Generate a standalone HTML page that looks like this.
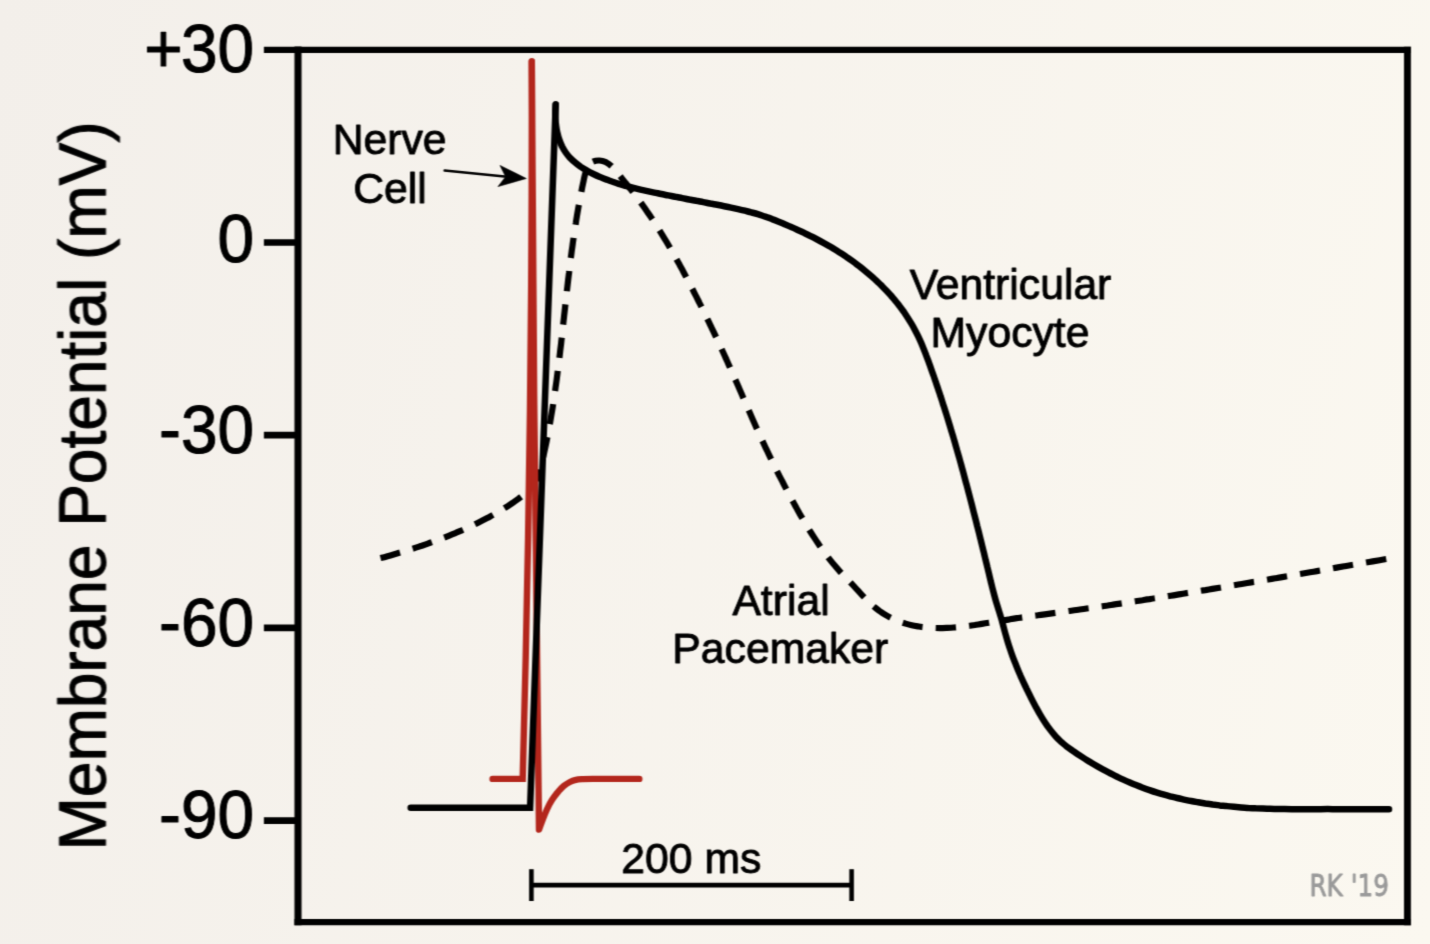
<!DOCTYPE html>
<html lang="en">
<head>
<meta charset="utf-8">
<title>Cardiac Action Potentials</title>
<style>
html,body{margin:0;padding:0;}
body{width:1430px;height:944px;overflow:hidden;background:linear-gradient(103deg,#f3efea 0%,#fbf8f0 100%);}
svg{display:block;position:absolute;left:0;top:0;}
text{font-family:"Liberation Sans",Arial,Helvetica,sans-serif;fill:#000;stroke:#000;stroke-width:1px;stroke-linejoin:round;}
.ax{font-size:65.8px;}
.yl{font-size:64px;}
.lb{font-size:42.7px;text-anchor:middle;stroke-width:0.9px;}
</style>
</head>
<body>
<svg width="1430" height="944" viewBox="0 0 1430 944">
  <defs><filter id="soft" x="0" y="0" width="1430" height="944" filterUnits="userSpaceOnUse" color-interpolation-filters="sRGB"><feConvolveMatrix order="3" kernelMatrix="0.0276 0.0648 0.0276 0.1748 0.4104 0.1748 0.0276 0.0648 0.0276" divisor="1" edgeMode="duplicate" preserveAlpha="false"/></filter></defs>
  <g filter="url(#soft)">
  <!-- frame -->
  <g stroke="#000" fill="none" stroke-linecap="butt">
    <line x1="263.9" y1="49.85" x2="1410.9" y2="49.85" stroke-width="6.3"/>
    <line x1="294.4" y1="922.2" x2="1410.9" y2="922.2" stroke-width="6.3"/>
    <line x1="298" y1="46.5" x2="298" y2="925.35" stroke-width="7.1"/>
    <line x1="1407.45" y1="46.7" x2="1407.45" y2="925.35" stroke-width="6.9"/>
  </g>
  <!-- ticks -->
  <g stroke="#000" stroke-width="6.6" fill="none">
    <line x1="263.9" y1="242.5" x2="298" y2="242.5"/>
    <line x1="263.9" y1="435.1" x2="298" y2="435.1"/>
    <line x1="263.9" y1="627.9" x2="298" y2="627.9"/>
    <line x1="263.9" y1="820.65" x2="298" y2="820.65"/>
  </g>
  <!-- tick labels -->
  <g class="ax" text-anchor="end">
    <text transform="translate(254.2 72) scale(1 1.035)">+<tspan dx="-1.6">30</tspan></text>
    <text transform="translate(254.2 261.7) scale(1 1.035)">0</text>
    <text transform="translate(254.2 452.7) scale(1 1.035)">-30</text>
    <text transform="translate(254.2 645.6) scale(1 1.035)">-60</text>
    <text transform="translate(254.2 838.2) scale(1 1.035)">-90</text>
  </g>
  <!-- axis title -->
  <text class="ax yl" transform="translate(105.3 485.9) rotate(-90) scale(1 1.03)" text-anchor="middle">Membrane Potential (mV)</text>

  <!-- atrial pacemaker (dashed) -->
  <path id="pace" fill="none" stroke="#000" stroke-width="6.2" stroke-dasharray="20.3 13.2"
    d="M380.5 558.1 C381.7 557.8 385.2 556.9 387.5 556.2 C389.8 555.6 392.1 554.9 394.4 554.2 C396.7 553.6 399.0 552.9 401.3 552.2 C403.6 551.5 405.9 550.8 408.2 550.1 C410.5 549.4 412.8 548.7 415.0 547.9 C417.3 547.2 419.6 546.4 421.8 545.7 C424.1 544.9 426.4 544.1 428.6 543.3 C430.9 542.6 433.1 541.7 435.4 540.9 C437.6 540.1 439.8 539.3 442.1 538.4 C444.3 537.6 446.5 536.7 448.7 535.8 C450.9 534.9 453.2 534.0 455.4 533.1 C457.6 532.2 459.7 531.2 461.9 530.3 C464.1 529.3 466.3 528.3 468.5 527.3 C470.6 526.3 472.8 525.3 474.9 524.3 C477.1 523.2 479.2 522.2 481.4 521.1 C483.5 520.0 485.6 518.9 487.7 517.8 C489.9 516.6 492.0 515.5 494.1 514.3 C496.2 513.1 498.3 511.9 500.3 510.7 C502.4 509.5 504.5 508.2 506.5 506.9 C508.5 505.6 510.6 504.3 512.6 502.9 C514.5 501.5 516.5 500.1 518.5 498.7 C520.4 497.2 522.4 495.7 524.2 494.2 C526.0 492.6 527.8 491.0 529.4 489.2 C531.0 487.5 532.4 485.6 533.7 483.7 C534.9 481.8 536.0 479.7 537.0 477.6 C537.9 475.5 538.7 473.3 539.5 471.0 C540.2 468.8 540.9 466.5 541.5 464.2 C542.1 461.9 542.6 459.5 543.2 457.2 C543.7 454.8 544.2 452.5 544.7 450.1 C545.2 447.8 545.7 445.4 546.2 443.1 C546.7 440.7 547.1 438.4 547.6 436.0 C548.1 433.6 548.5 431.3 548.9 428.9 C549.4 426.6 549.8 424.2 550.2 421.9 C550.6 419.5 551.0 417.1 551.4 414.8 C551.8 412.4 552.2 410.0 552.6 407.7 C553.0 405.3 553.3 402.9 553.7 400.6 C554.0 398.2 554.4 395.8 554.7 393.5 C555.1 391.1 555.4 388.7 555.7 386.4 C556.1 384.0 556.4 381.6 556.7 379.3 C557.0 376.9 557.3 374.5 557.6 372.2 C557.9 369.8 558.2 367.4 558.5 365.0 C558.8 362.7 559.1 360.3 559.4 357.9 C559.7 355.5 560.0 353.2 560.2 350.8 C560.5 348.4 560.8 346.0 561.1 343.7 C561.3 341.3 561.6 338.9 561.9 336.5 C562.1 334.2 562.4 331.8 562.7 329.4 C562.9 327.0 563.2 324.7 563.4 322.3 C563.7 319.9 564.0 317.5 564.2 315.1 C564.5 312.8 564.7 310.4 565.0 308.0 C565.3 305.6 565.5 303.3 565.8 300.9 C566.1 298.5 566.3 296.1 566.6 293.8 C566.9 291.4 567.1 289.0 567.4 286.6 C567.7 284.3 567.9 281.9 568.2 279.5 C568.5 277.1 568.8 274.8 569.1 272.4 C569.3 270.0 569.6 267.7 569.9 265.3 C570.2 262.9 570.5 260.5 570.8 258.2 C571.1 255.8 571.4 253.4 571.7 251.1 C572.1 248.7 572.4 246.3 572.7 244.0 C573.0 241.6 573.4 239.2 573.7 236.9 C574.1 234.5 574.4 232.1 574.8 229.8 C575.1 227.4 575.5 225.0 575.9 222.7 C576.2 220.3 576.6 218.0 577.0 215.6 C577.4 213.3 577.8 210.9 578.2 208.5 C578.6 206.2 579.1 203.8 579.5 201.5 C579.9 199.1 580.4 196.8 580.8 194.4 C581.3 192.1 581.8 189.7 582.2 187.4 C582.7 185.0 583.2 182.7 583.7 180.3 C584.2 178.0 584.6 175.7 585.3 173.3 C586.0 170.9 586.5 168.0 587.8 166.0 C589.1 164.1 591.0 162.5 593.0 161.6 C594.9 160.7 597.3 160.4 599.5 160.5 C601.6 160.6 603.9 161.3 606.0 162.2 C608.0 163.2 609.9 164.6 611.6 166.2 C613.4 167.7 615.0 169.6 616.5 171.5 C618.1 173.3 619.6 175.4 621.1 177.3 C622.6 179.2 624.1 181.1 625.6 182.9 C627.0 184.8 628.5 186.6 630.0 188.4 C631.4 190.2 632.9 192.1 634.3 193.9 C635.7 195.8 637.1 197.7 638.5 199.5 C639.9 201.4 641.3 203.3 642.6 205.2 C644.0 207.1 645.4 209.0 646.7 211.0 C648.0 212.9 649.4 214.8 650.7 216.8 C652.0 218.7 653.3 220.7 654.5 222.7 C655.8 224.6 657.1 226.6 658.4 228.6 C659.6 230.6 660.9 232.6 662.1 234.6 C663.3 236.6 664.5 238.6 665.8 240.7 C667.0 242.7 668.2 244.7 669.4 246.7 C670.5 248.8 671.7 250.8 672.9 252.9 C674.1 254.9 675.2 257.0 676.4 259.0 C677.5 261.1 678.7 263.2 679.8 265.2 C680.9 267.3 682.1 269.4 683.2 271.5 C684.3 273.5 685.4 275.6 686.5 277.7 C687.6 279.8 688.7 281.9 689.8 284.0 C690.9 286.1 692.0 288.2 693.1 290.3 C694.1 292.4 695.2 294.5 696.3 296.6 C697.3 298.7 698.4 300.8 699.4 302.9 C700.5 305.0 701.6 307.1 702.6 309.2 C703.6 311.3 704.7 313.4 705.7 315.5 C706.7 317.6 707.8 319.7 708.8 321.8 C709.8 324.0 710.8 326.1 711.8 328.2 C712.9 330.3 713.9 332.4 714.9 334.6 C715.9 336.7 716.9 338.8 717.9 340.9 C718.9 343.1 719.8 345.2 720.8 347.3 C721.8 349.5 722.8 351.6 723.8 353.8 C724.8 355.9 725.7 358.0 726.7 360.2 C727.7 362.3 728.6 364.5 729.6 366.6 C730.5 368.8 731.5 370.9 732.5 373.1 C733.4 375.3 734.4 377.4 735.3 379.6 C736.3 381.7 737.2 383.9 738.2 386.0 C739.1 388.2 740.1 390.4 741.0 392.5 C741.9 394.7 742.9 396.8 743.8 399.0 C744.8 401.2 745.7 403.3 746.7 405.5 C747.6 407.6 748.5 409.8 749.5 412.0 C750.4 414.1 751.4 416.3 752.3 418.4 C753.3 420.6 754.2 422.7 755.2 424.9 C756.1 427.0 757.1 429.2 758.1 431.3 C759.0 433.5 760.0 435.6 761.0 437.8 C762.0 439.9 763.0 442.0 764.0 444.2 C764.9 446.3 765.9 448.4 767.0 450.5 C768.0 452.7 769.0 454.8 770.0 456.9 C771.0 459.0 772.1 461.1 773.1 463.2 C774.1 465.4 775.2 467.5 776.2 469.6 C777.3 471.7 778.4 473.8 779.4 475.9 C780.5 478.0 781.6 480.1 782.7 482.1 C783.7 484.2 784.8 486.3 785.9 488.4 C787.0 490.5 788.1 492.6 789.2 494.7 C790.3 496.7 791.4 498.8 792.6 500.9 C793.7 503.0 794.8 505.0 796.0 507.1 C797.1 509.2 798.3 511.2 799.4 513.3 C800.6 515.3 801.8 517.3 803.0 519.4 C804.2 521.4 805.4 523.4 806.6 525.4 C807.8 527.5 809.1 529.5 810.3 531.5 C811.6 533.5 812.8 535.4 814.1 537.4 C815.4 539.4 816.7 541.3 818.0 543.3 C819.3 545.2 820.7 547.2 822.0 549.1 C823.4 551.0 824.8 552.9 826.2 554.8 C827.6 556.6 829.0 558.5 830.5 560.4 C831.9 562.2 833.4 564.0 835.0 565.8 C836.5 567.6 838.0 569.4 839.6 571.1 C841.2 572.9 842.8 574.6 844.5 576.3 C846.1 578.0 847.8 579.7 849.4 581.4 C851.0 583.1 852.6 584.8 854.2 586.5 C855.8 588.3 857.4 590.0 859.0 591.7 C860.6 593.5 862.1 595.2 863.8 596.9 C865.4 598.6 867.0 600.2 868.7 601.9 C870.4 603.5 872.1 605.1 873.9 606.6 C875.8 608.1 877.6 609.6 879.5 611.0 C881.5 612.3 883.5 613.7 885.5 614.9 C887.5 616.1 889.6 617.2 891.7 618.3 C893.8 619.3 896.0 620.2 898.2 621.1 C900.4 621.9 902.6 622.7 904.8 623.4 C907.1 624.1 909.4 624.7 911.7 625.2 C913.9 625.7 916.3 626.1 918.6 626.5 C920.9 626.9 923.3 627.2 925.6 627.4 C927.9 627.7 930.3 627.8 932.7 627.9 C935.0 628.0 937.4 628.1 939.7 628.1 C942.1 628.1 944.4 628.0 946.8 627.9 C949.1 627.8 951.4 627.7 953.8 627.5 C956.1 627.3 958.5 627.1 960.8 626.8 C963.1 626.6 965.5 626.3 967.8 626.0 C970.1 625.7 972.5 625.3 974.8 625.0 C977.1 624.6 979.5 624.3 981.8 623.9 C984.1 623.5 986.5 623.1 988.8 622.7 C991.1 622.3 993.5 621.9 995.8 621.5 C998.1 621.1 1000.4 620.7 1002.8 620.4 C1005.1 620.0 1007.4 619.6 1009.8 619.3 C1012.1 618.9 1014.4 618.5 1016.8 618.2 C1019.1 617.9 1021.4 617.5 1023.8 617.2 C1026.1 616.9 1028.4 616.5 1030.8 616.2 C1033.1 615.9 1035.4 615.6 1037.8 615.3 C1040.1 614.9 1042.4 614.6 1044.8 614.3 C1047.1 614.0 1049.4 613.7 1051.8 613.4 C1054.1 613.1 1056.4 612.8 1058.8 612.4 C1061.1 612.1 1063.4 611.8 1065.8 611.5 C1068.1 611.2 1070.4 610.8 1072.7 610.5 C1075.1 610.2 1077.4 609.8 1079.7 609.5 C1082.1 609.2 1084.4 608.9 1086.7 608.5 C1089.1 608.2 1091.4 607.9 1093.7 607.5 C1096.1 607.2 1098.4 606.8 1100.7 606.5 C1103.0 606.2 1105.4 605.8 1107.7 605.5 C1110.0 605.1 1112.4 604.8 1114.7 604.4 C1117.0 604.1 1119.4 603.7 1121.7 603.4 C1124.0 603.0 1126.3 602.7 1128.7 602.3 C1131.0 601.9 1133.3 601.6 1135.7 601.2 C1138.0 600.9 1140.3 600.5 1142.6 600.2 C1145.0 599.8 1147.3 599.4 1149.6 599.1 C1151.9 598.7 1154.3 598.3 1156.6 598.0 C1158.9 597.6 1161.3 597.2 1163.6 596.9 C1165.9 596.5 1168.2 596.1 1170.6 595.7 C1172.9 595.4 1175.2 595.0 1177.5 594.6 C1179.9 594.2 1182.2 593.9 1184.5 593.5 C1186.9 593.1 1189.2 592.7 1191.5 592.3 C1193.8 592.0 1196.2 591.6 1198.5 591.2 C1200.8 590.8 1203.1 590.4 1205.5 590.1 C1207.8 589.7 1210.1 589.3 1212.4 588.9 C1214.8 588.5 1217.1 588.1 1219.4 587.7 C1221.7 587.3 1224.1 587.0 1226.4 586.6 C1228.7 586.2 1231.0 585.8 1233.4 585.4 C1235.7 585.0 1238.0 584.6 1240.3 584.2 C1242.7 583.8 1245.0 583.4 1247.3 583.0 C1249.6 582.6 1251.9 582.2 1254.3 581.9 C1256.6 581.5 1258.9 581.1 1261.2 580.7 C1263.6 580.3 1265.9 579.9 1268.2 579.5 C1270.5 579.1 1272.9 578.7 1275.2 578.3 C1277.5 577.9 1279.8 577.5 1282.1 577.1 C1284.5 576.7 1286.8 576.3 1289.1 575.9 C1291.4 575.5 1293.8 575.1 1296.1 574.7 C1298.4 574.3 1300.7 573.9 1303.0 573.5 C1305.4 573.1 1307.7 572.7 1310.0 572.3 C1312.3 571.9 1314.7 571.5 1317.0 571.1 C1319.3 570.7 1321.6 570.3 1323.9 569.9 C1326.3 569.5 1328.6 569.1 1330.9 568.7 C1333.2 568.2 1335.5 567.8 1337.9 567.4 C1340.2 567.0 1342.5 566.6 1344.8 566.2 C1347.2 565.8 1349.5 565.4 1351.8 565.0 C1354.1 564.6 1356.4 564.2 1358.8 563.8 C1361.1 563.4 1363.4 563.0 1365.7 562.6 C1368.0 562.2 1370.4 561.8 1372.7 561.4 C1375.0 561.0 1377.3 560.6 1379.6 560.2 C1382.0 559.8 1385.4 559.2 1386.6 559.0"/>
  <!-- nerve cell (red) -->
  <path id="nerve0" fill="none" stroke="#b3261c" stroke-width="6.4" stroke-linecap="round" stroke-linejoin="miter" stroke-miterlimit="10"
    d="M492.6 778.9 L522.7 778.9 Q532.5 420 531.8 61.4"/>
  <path id="nerve" fill="none" stroke="#b3261c" stroke-width="6.4" stroke-linecap="round" stroke-linejoin="round"
    d="M531.8 61.4 C531.8 300 537.6 620 539 829.6 C539.6 827.9 541.5 822.7 542.8 819.3 C544.1 815.9 545.5 812.5 547.0 809.2 C548.5 806.0 550.2 802.7 552.1 799.8 C554.0 796.9 556.1 794.1 558.1 791.8 C560.1 789.5 562.0 787.4 564.0 785.8 C566.0 784.2 567.9 783.0 569.9 782.0 C571.9 781.0 573.7 780.4 575.8 779.9 C577.9 779.4 579.8 779.3 582.6 779.1 C585.4 778.9 591.1 778.9 592.8 778.9 L639.3 778.9"/>
  <!-- ventricular myocyte (solid) -->
  <path id="vent0" fill="none" stroke="#000" stroke-width="6.5" stroke-linecap="round" stroke-linejoin="miter" stroke-miterlimit="10"
    d="M410.7 807.8 L530.1 807.8 L555.7 104.6"/>
  <path id="vent" fill="none" stroke="#000" stroke-width="6.5" stroke-linecap="round" stroke-linejoin="round"
    d="M555.7 104.6 C555.6 105.8 555.4 109.2 555.3 111.5 C555.3 113.8 555.3 116.2 555.4 118.6 C555.5 121.0 555.7 123.5 556.1 125.9 C556.4 128.3 556.8 130.7 557.4 133.0 C557.9 135.3 558.6 137.7 559.4 139.9 C560.2 142.2 561.1 144.4 562.1 146.5 C563.2 148.6 564.4 150.6 565.7 152.5 C567.0 154.4 568.5 156.2 570.1 157.9 C571.7 159.5 573.4 161.1 575.2 162.6 C577.0 164.1 578.9 165.5 580.8 166.9 C582.8 168.2 584.9 169.4 586.9 170.6 C589.0 171.8 591.2 172.9 593.4 174.0 C595.5 175.0 597.7 176.0 599.9 176.9 C602.1 177.9 604.4 178.8 606.6 179.6 C608.8 180.5 611.1 181.3 613.3 182.0 C615.5 182.8 617.8 183.5 620.0 184.2 C622.3 184.9 624.6 185.5 626.8 186.2 C629.1 186.8 631.4 187.4 633.7 187.9 C635.9 188.5 638.2 189.1 640.5 189.6 C642.8 190.1 645.1 190.6 647.4 191.1 C649.7 191.6 652.0 192.1 654.3 192.6 C656.6 193.1 659.0 193.5 661.3 194.0 C663.6 194.5 665.9 194.9 668.2 195.4 C670.6 195.9 672.9 196.3 675.2 196.8 C677.6 197.2 679.9 197.7 682.2 198.1 C684.6 198.6 686.9 199.0 689.2 199.5 C691.6 199.9 693.9 200.3 696.2 200.8 C698.6 201.2 700.9 201.7 703.2 202.1 C705.6 202.6 707.9 203.0 710.2 203.5 C712.6 203.9 714.9 204.4 717.2 204.8 C719.5 205.3 721.8 205.8 724.2 206.2 C726.5 206.7 728.8 207.2 731.1 207.6 C733.4 208.1 735.7 208.6 738.0 209.1 C740.3 209.6 742.6 210.1 744.9 210.7 C747.2 211.3 749.5 211.8 751.7 212.5 C754.0 213.1 756.3 213.7 758.6 214.4 C760.8 215.1 763.1 215.9 765.3 216.6 C767.6 217.4 769.8 218.2 772.0 219.1 C774.3 219.9 776.5 220.8 778.7 221.7 C780.9 222.6 783.1 223.5 785.3 224.5 C787.5 225.4 789.7 226.3 791.8 227.3 C794.0 228.2 796.1 229.2 798.3 230.2 C800.4 231.1 802.6 232.1 804.7 233.2 C806.8 234.2 808.9 235.2 811.0 236.3 C813.1 237.3 815.2 238.4 817.3 239.5 C819.4 240.6 821.5 241.7 823.5 242.8 C825.6 244.0 827.6 245.1 829.7 246.3 C831.7 247.5 833.8 248.8 835.8 250.0 C837.8 251.3 839.8 252.5 841.8 253.8 C843.8 255.1 845.8 256.4 847.7 257.8 C849.7 259.1 851.6 260.5 853.6 261.9 C855.5 263.3 857.4 264.8 859.3 266.2 C861.2 267.7 863.0 269.1 864.9 270.7 C866.7 272.2 868.5 273.7 870.3 275.3 C872.1 276.8 873.9 278.4 875.6 280.0 C877.4 281.6 879.1 283.3 880.8 284.9 C882.5 286.6 884.1 288.3 885.8 290.0 C887.4 291.7 889.0 293.4 890.6 295.2 C892.1 297.0 893.7 298.8 895.2 300.6 C896.7 302.4 898.1 304.3 899.6 306.1 C901.0 308.0 902.4 309.9 903.8 311.8 C905.1 313.8 906.4 315.7 907.7 317.7 C909.0 319.7 910.2 321.7 911.4 323.7 C912.6 325.7 913.8 327.8 914.9 329.9 C916.0 331.9 917.1 334.1 918.1 336.2 C919.1 338.3 920.1 340.5 921.1 342.7 C922.0 344.8 922.9 347.0 923.8 349.2 C924.7 351.4 925.6 353.7 926.4 355.9 C927.3 358.1 928.1 360.4 928.9 362.6 C929.7 364.8 930.5 367.1 931.3 369.3 C932.1 371.6 932.9 373.8 933.7 376.0 C934.5 378.3 935.2 380.5 936.0 382.7 C936.8 385.0 937.5 387.2 938.3 389.5 C939.0 391.7 939.8 393.9 940.5 396.2 C941.3 398.4 942.0 400.7 942.7 402.9 C943.4 405.2 944.2 407.4 944.9 409.7 C945.6 411.9 946.3 414.2 947.0 416.4 C947.7 418.7 948.4 420.9 949.1 423.2 C949.8 425.5 950.5 427.7 951.1 430.0 C951.8 432.3 952.5 434.5 953.2 436.8 C953.8 439.1 954.5 441.3 955.2 443.6 C955.8 445.9 956.5 448.2 957.1 450.4 C957.8 452.7 958.4 455.0 959.1 457.3 C959.7 459.6 960.3 461.8 961.0 464.1 C961.6 466.4 962.2 468.7 962.9 471.0 C963.5 473.3 964.1 475.6 964.7 477.8 C965.3 480.1 965.9 482.4 966.6 484.7 C967.2 487.0 967.8 489.3 968.4 491.6 C969.0 493.9 969.6 496.2 970.2 498.5 C970.8 500.8 971.4 503.1 972.0 505.3 C972.6 507.6 973.1 509.9 973.7 512.2 C974.3 514.5 974.9 516.8 975.5 519.1 C976.1 521.4 976.7 523.7 977.2 526.0 C977.8 528.3 978.4 530.6 979.0 532.9 C979.5 535.2 980.1 537.5 980.7 539.8 C981.2 542.1 981.8 544.4 982.4 546.7 C982.9 548.9 983.5 551.2 984.1 553.5 C984.6 555.8 985.2 558.1 985.7 560.4 C986.3 562.7 986.9 565.0 987.4 567.3 C988.0 569.6 988.5 571.9 989.1 574.2 C989.6 576.5 990.2 578.8 990.7 581.1 C991.3 583.4 991.8 585.7 992.4 588.0 C993.0 590.3 993.6 592.6 994.2 594.9 C994.8 597.2 995.4 599.5 996.1 601.7 C996.8 604.0 997.5 606.3 998.2 608.5 C998.9 610.8 999.6 613.0 1000.3 615.3 C1001.0 617.6 1001.7 619.8 1002.3 622.1 C1002.9 624.4 1003.5 626.7 1004.1 629.0 C1004.7 631.3 1005.3 633.6 1006.0 635.9 C1006.6 638.1 1007.3 640.4 1008.0 642.7 C1008.7 644.9 1009.4 647.2 1010.2 649.4 C1010.9 651.7 1011.7 653.9 1012.5 656.1 C1013.3 658.3 1014.2 660.5 1015.1 662.7 C1015.9 664.9 1016.8 667.1 1017.7 669.3 C1018.6 671.5 1019.6 673.7 1020.5 675.8 C1021.5 678.0 1022.5 680.1 1023.5 682.3 C1024.5 684.4 1025.5 686.6 1026.5 688.7 C1027.6 690.8 1028.6 693.0 1029.7 695.1 C1030.7 697.2 1031.8 699.3 1032.9 701.4 C1034.0 703.5 1035.1 705.6 1036.2 707.7 C1037.4 709.8 1038.5 711.9 1039.7 713.9 C1040.9 716.0 1042.1 718.0 1043.4 720.0 C1044.7 722.0 1046.0 723.9 1047.3 725.9 C1048.7 727.8 1050.1 729.7 1051.6 731.5 C1053.1 733.4 1054.6 735.2 1056.2 736.9 C1057.8 738.6 1060.4 741.1 1061.3 742.0 C1062.2 742.7 1064.9 745.1 1066.8 746.6 C1068.7 748.0 1070.6 749.3 1072.6 750.7 C1074.6 752.0 1076.6 753.4 1078.6 754.7 C1080.6 756.0 1082.6 757.3 1084.6 758.6 C1086.7 759.9 1088.7 761.2 1090.8 762.4 C1092.8 763.7 1094.9 764.9 1097.0 766.1 C1099.1 767.3 1101.2 768.5 1103.3 769.6 C1105.4 770.8 1107.6 771.9 1109.7 773.0 C1111.9 774.1 1114.0 775.2 1116.2 776.3 C1118.3 777.3 1120.5 778.4 1122.7 779.4 C1124.9 780.4 1127.1 781.4 1129.3 782.3 C1131.5 783.3 1133.8 784.2 1136.0 785.1 C1138.2 786.0 1140.5 786.9 1142.7 787.7 C1145.0 788.6 1147.2 789.4 1149.5 790.1 C1151.8 790.9 1154.1 791.7 1156.3 792.4 C1158.6 793.1 1160.9 793.8 1163.2 794.4 C1165.5 795.1 1167.8 795.7 1170.1 796.3 C1172.5 796.9 1174.8 797.5 1177.1 798.0 C1179.4 798.6 1181.8 799.1 1184.1 799.6 C1186.5 800.1 1188.8 800.6 1191.2 801.0 C1193.5 801.5 1195.9 801.9 1198.2 802.3 C1200.6 802.7 1203.0 803.1 1205.3 803.5 C1207.7 803.8 1210.1 804.1 1212.5 804.5 C1214.8 804.8 1217.2 805.1 1219.6 805.4 C1222.0 805.6 1224.4 805.9 1226.8 806.1 C1229.2 806.4 1231.6 806.6 1234.0 806.8 C1236.4 807.0 1238.8 807.2 1241.2 807.4 C1243.6 807.6 1246.0 807.7 1248.4 807.9 C1250.8 808.0 1253.2 808.1 1255.6 808.3 C1258.1 808.4 1260.5 808.5 1262.9 808.6 C1265.3 808.7 1267.7 808.8 1270.1 808.8 C1272.5 808.9 1274.9 809.0 1277.4 809.0 C1279.8 809.1 1282.2 809.1 1284.6 809.1 C1287.0 809.2 1289.4 809.2 1291.8 809.2 C1294.2 809.2 1296.6 809.2 1299.0 809.2 C1301.4 809.2 1303.9 809.2 1306.3 809.2 C1308.7 809.2 1311.1 809.2 1313.4 809.2 C1315.8 809.2 1318.2 809.2 1320.6 809.2 C1323.0 809.1 1325.4 809.1 1327.8 809.1 C1330.2 809.1 1333.8 809.2 1335.0 809.2 L1389 809.2"/>

  <!-- arrow -->
  <line x1="444.6" y1="170.5" x2="507" y2="176.8" stroke="#000" stroke-width="2.4" stroke-linecap="round"/>
  <path d="M526.3 178.5 L500 165.4 L505.6 176.7 L498 186.6 Z" fill="#000" stroke="#000" stroke-width="0.6" stroke-linejoin="round"/>

  <!-- scale bar -->
  <g stroke="#000" stroke-width="4.6" fill="none">
    <line x1="531.4" y1="885.1" x2="851.6" y2="885.1"/>
    <line x1="531.4" y1="869.2" x2="531.4" y2="901"/>
    <line x1="851.6" y1="869.2" x2="851.6" y2="901"/>
  </g>

  <!-- labels -->
  <text class="lb" transform="translate(389.6 154)">Nerve</text>
  <text class="lb" transform="translate(390 202.6)">Cell</text>
  <text class="lb" transform="translate(1010.5 298.5)">Ventricular</text>
  <text class="lb" transform="translate(1010 346.8)">Myocyte</text>
  <text class="lb" transform="translate(781 614.5)">Atrial</text>
  <text class="lb" transform="translate(780.3 662.8)">Pacemaker</text>
  <text class="lb" transform="translate(691.3 872.6)">200 ms</text>
  <text x="1388.9" y="896" text-anchor="end" style="font-size:31px;fill:#9a9a9a;stroke:#9a9a9a;stroke-width:0.9px;font-family:'DejaVu Sans','Liberation Sans',sans-serif" textLength="79.5" lengthAdjust="spacingAndGlyphs">RK '19</text>
  </g>
</svg>
</body>
</html>
